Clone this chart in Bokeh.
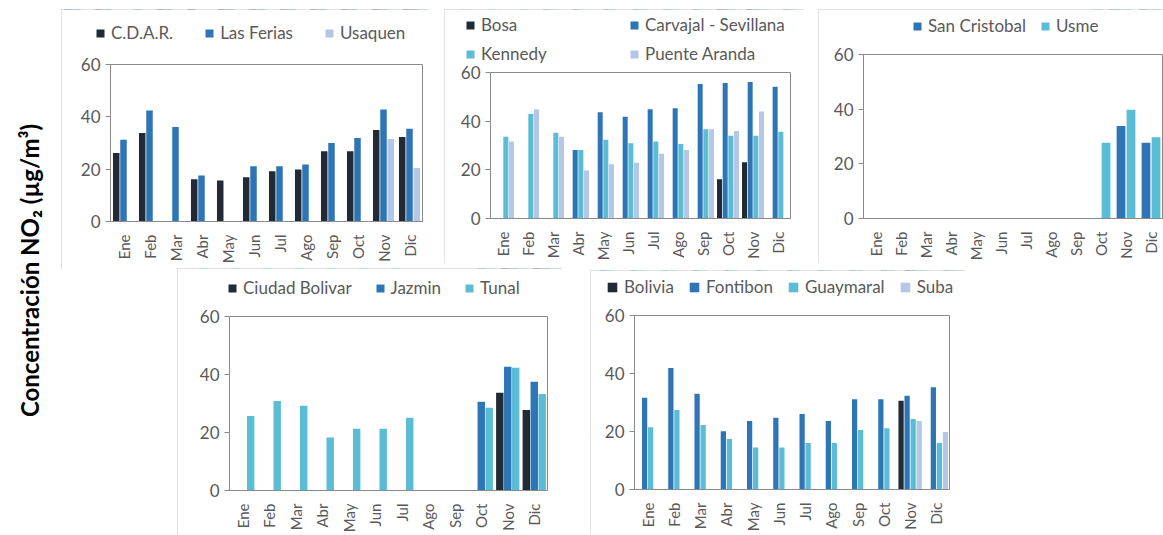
import math
from bokeh.plotting import figure
from bokeh.models import (ColumnDataSource, Range1d, FactorRange, Legend, LegendItem,
                          Label, FixedTicker)
from bokeh.transform import dodge
from bokeh.embed import file_html
from bokeh.resources import INLINE

# ---------------- data ----------------
months = ["Ene", "Feb", "Mar", "Abr", "May", "Jun", "Jul", "Ago", "Sep", "Oct", "Nov", "Dic"]
y_ticks = [0, 20, 40, 60]
y_title = "Concentración NO₂ (µg/m³)"

# panel 1
cdar = [26.2, 33.8, None, 16.1, 15.7, 16.9, 19.2, 19.9, 26.8, 26.8, 35.0, 32.3]
las_ferias = [31.2, 42.4, 36.1, 17.6, None, 21.1, 21.1, 21.8, 30.0, 31.9, 42.8, 35.4]
usaquen = [None, None, None, None, None, None, None, None, None, None, 31.5, 20.4]

# panel 2
bosa = [None, None, None, None, None, None, None, None, None, 16.1, 23.1, None]
carvajal = [None, None, None, 28.2, 43.7, 41.8, 44.9, 45.3, 55.3, 55.7, 56.1, 54.1]
kennedy = [33.6, 42.9, 35.2, 28.2, 32.4, 30.9, 31.6, 30.6, 36.7, 34.0, 34.0, 35.6]
puente_aranda = [31.6, 44.9, 33.6, 19.7, 22.3, 22.9, 26.6, 28.2, 36.7, 36.0, 44.0, None]

# panel 3
san_cristobal = [None, None, None, None, None, None, None, None, None, None, 33.8, 27.7]
usme = [None, None, None, None, None, None, None, None, None, 27.7, 39.8, 29.7]

# panel 4
ciudad_bolivar = [None, None, None, None, None, None, None, None, None, None, 33.7, 27.8]
jazmin = [None, None, None, None, None, None, None, None, None, 30.6, 42.7, 37.5]
tunal = [25.7, 30.9, 29.2, 18.3, 21.3, 21.3, 25.1, None, None, 28.5, 42.3, 33.3]

# panel 5
bolivia = [None, None, None, None, None, None, None, None, None, None, 30.6, None]
fontibon = [31.6, 41.9, 33.0, 20.1, 23.6, 24.7, 26.0, 23.6, 31.1, 31.1, 32.3, 35.3]
guaymaral = [21.5, 27.4, 22.2, 17.4, 14.5, 14.5, 16.0, 16.0, 20.5, 21.1, 24.3, 16.0]
suba = [None, None, None, None, None, None, None, None, None, None, 23.6, 19.8]

# ---------------- style ----------------
DARK = "#222a35"
BLUE = "#2e75b6"
CYAN = "#5bbcd6"
LIGHT = "#b4c7e7"
FONT = "Lato"
GRAY = "#595959"
LINE = "#8a8a8a"
PANEL_BORDER = "#d9d9d9"


def place(left, top):
    return {"position": "absolute", "left": f"{left}px", "top": f"{top}px"}


def make_panel(box, borders, names, series, colors, offsets, bar_w,
               legend_xy, spacing, glyph=10, standoff=6, label_width=20,
               label_height=20, ncols=None):
    bx, by, bw, bh = box
    left, right, top, bottom = borders
    st = place(bx, by)
    st.update({"outline": f"1.5px solid {PANEL_BORDER}", "outline-offset": "-1.5px"})
    p = figure(width=bw, height=bh,
               x_range=FactorRange(*months, range_padding=0),
               y_range=Range1d(0, 60),
               output_backend="svg", toolbar_location=None,
               min_border_left=left, min_border_right=right,
               min_border_top=top, min_border_bottom=bottom,
               outline_line_color=LINE, outline_line_width=1,
               background_fill_color="white", border_fill_color="white",
               styles=st)
    p.xgrid.grid_line_color = None
    p.ygrid.grid_line_color = None

    # legend strip over the panel's top border area (shares the series sources;
    # its y range lies below the bars, so only the legend shows there)
    lf = figure(width=bw, height=top, x_range=FactorRange(*months, range_padding=0),
                y_range=Range1d(-2, -1),
                x_axis_type=None, y_axis_type=None, output_backend="svg",
                toolbar_location=None, min_border=0, outline_line_color=None,
                background_fill_alpha=0, border_fill_alpha=0, styles=place(bx, by))
    lf.grid.grid_line_color = None

    items = []
    for name, vals, col, off in zip(names, series, colors, offsets):
        xs = [m for m, v in zip(months, vals) if v is not None]
        ys = [v for v in vals if v is not None]
        src = ColumnDataSource(dict(month=xs, val=ys))
        p.vbar(x=dodge("month", off, range=p.x_range), top="val", width=bar_w,
               source=src, fill_color=col, line_color=None, name=name)
        r = lf.vbar(x=dodge("month", off, range=lf.x_range), top="val", width=bar_w,
                    source=src, fill_color=col, line_color=None)
        items.append(LegendItem(label=name, renderers=[r]))

    ya = p.yaxis[0]
    ya.ticker = FixedTicker(ticks=y_ticks)
    ya.minor_tick_line_color = None
    ya.major_tick_out = 5
    ya.major_tick_in = 0
    ya.major_tick_line_color = LINE
    ya.axis_line_color = LINE
    ya.major_label_standoff = 5
    ya.major_label_text_font = FONT
    ya.major_label_text_font_size = "17px"
    ya.major_label_text_color = GRAY

    xa = p.xaxis[0]
    xa.major_tick_line_color = None
    xa.minor_tick_line_color = None
    xa.axis_line_color = LINE
    xa.major_label_orientation = math.pi / 2
    xa.major_label_standoff = 7
    xa.major_label_text_font = FONT
    xa.major_label_text_font_size = "15px"
    xa.major_label_text_color = GRAY

    leg = Legend(items=items, location=legend_xy, orientation="horizontal",
                 border_line_color=None, background_fill_alpha=0,
                 padding=0, margin=0, spacing=spacing,
                 label_standoff=standoff, glyph_width=glyph, glyph_height=glyph,
                 label_width=label_width, label_height=label_height,
                 label_text_font=FONT, label_text_font_size="17px",
                 label_text_color=GRAY)
    if ncols:
        leg.ncols = ncols
    lf.add_layout(leg, "center")
    return [p, lf]


models = []

# y title
tf = figure(width=58, height=535, x_range=Range1d(0, 1), y_range=Range1d(0, 1),
            x_axis_type=None, y_axis_type=None, output_backend="svg",
            toolbar_location=None, min_border=0, outline_line_color=None,
            styles=place(0, 0))
tf.grid.grid_line_color = None
tf.add_layout(Label(x=29, y=265, x_units="screen", y_units="screen", text=y_title,
                    angle=math.pi / 2, text_align="center", text_baseline="middle",
                    text_font=FONT, text_font_style="bold", text_font_size="24px",
                    text_color="black"))
models.append(tf)

models += make_panel((61, 9, 369, 260), (49, 8, 55, 48),
                     ["C.D.A.R.", "Las Ferias", "Usaquen"],
                     [cdar, las_ferias, usaquen], [DARK, BLUE, LIGHT],
                     [-0.28, 0.0, 0.28], 0.25, (34, 21), 31)

models += make_panel((444, 9, 360, 254), (46, 14, 63, 40),
                     ["Bosa", "Carvajal - Sevillana", "Kennedy", "Puente Aranda"],
                     [bosa, carvajal, kennedy, puente_aranda], [DARK, BLUE, CYAN, LIGHT],
                     [-0.34, -0.113, 0.113, 0.34], 0.2, (21, 8), 8,
                     label_width=140, label_height=18, ncols=2)

models += make_panel((818, 9, 345, 254), (45, 0, 45, 40),
                     ["San Cristobal", "Usme"],
                     [san_cristobal, usme], [BLUE, CYAN],
                     [-0.2, 0.2], 0.35, (94, 18), 14)

models += make_panel((177, 268, 385, 267), (52, 15, 48, 38),
                     ["Ciudad Bolivar", "Jazmin", "Tunal"],
                     [ciudad_bolivar, jazmin, tunal], [DARK, BLUE, CYAN],
                     [-0.3, 0.0, 0.3], 0.28, (50, 18), 23)

models += make_panel((590, 270, 375, 264), (44, 16, 45, 43),
                     ["Bolivia", "Fontibon", "Guaymaral", "Suba"],
                     [bolivia, fontibon, guaymaral, suba], [DARK, BLUE, CYAN, LIGHT],
                     [-0.345, -0.115, 0.115, 0.345], 0.2, (16, 18), 14, glyph=12)

open("out.html", "w").write(file_html(models, INLINE))
